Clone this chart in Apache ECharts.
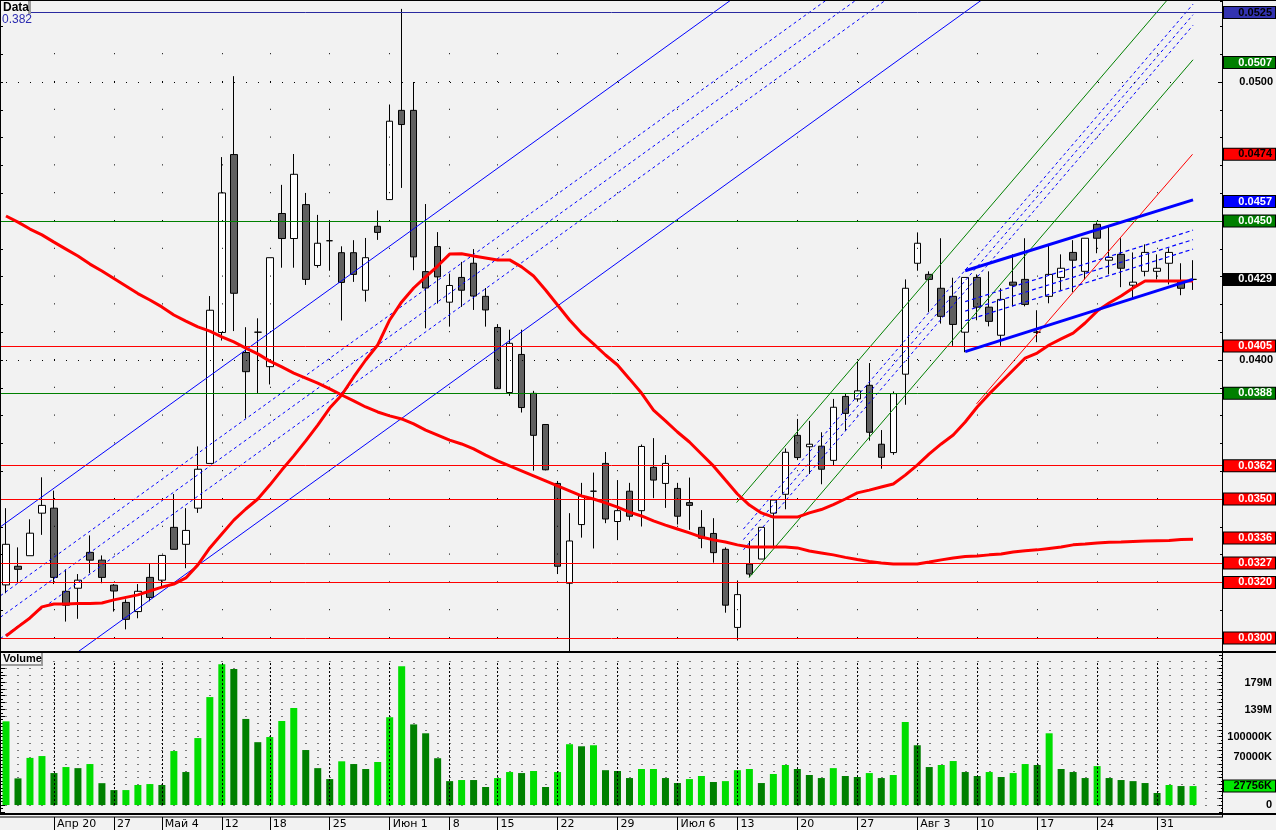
<!DOCTYPE html>
<html><head><meta charset="utf-8">
<script src="https://cdn.jsdelivr.net/npm/echarts@6/dist/echarts.min.js"></script>
<style>html,body{margin:0;padding:0;background:#f2f2f2}#c{width:1276px;height:830px}</style>
</head><body><div id="c"></div><script>
// ---------- data ----------
const dates = ['04-14','04-15','04-16','04-17','04-20','04-21','04-22','04-23','04-24','04-27',
'04-28','04-29','04-30','05-04','05-05','05-06','05-07','05-08','05-12','05-13',
'05-14','05-15','05-18','05-19','05-20','05-21','05-22','05-25','05-26','05-27',
'05-28','05-29','06-01','06-02','06-03','06-04','06-05','06-08','06-09','06-10',
'06-11','06-15','06-16','06-17','06-18','06-19','06-22','06-23','06-24','06-25',
'06-26','06-29','06-30','07-01','07-02','07-03','07-06','07-07','07-08','07-09',
'07-10','07-13','07-14','07-15','07-16','07-17','07-20','07-21','07-22','07-23',
'07-24','07-27','07-28','07-29','07-30','07-31','08-03','08-04','08-05','08-06',
'08-07','08-10','08-11','08-12','08-13','08-14','08-17','08-18','08-19','08-20',
'08-21','08-24','08-25','08-26','08-27','08-28','08-31','09-01','09-02','09-03'];
const open = [0.03191,0.03258,0.03296,0.03449,0.03467,0.03168,0.03179,0.03308,0.03280,0.03190,
0.03128,0.03095,0.03218,0.03208,0.03398,0.03337,0.03467,0.03628,0.04099,0.04739,
0.04027,0.04100,0.03976,0.04527,0.04437,0.04559,0.04340,0.04429,0.04386,0.04386,
0.04251,0.04481,0.04577,0.04898,0.04898,0.04318,0.04408,0.04208,0.04297,0.04348,
0.04229,0.04117,0.03883,0.04020,0.03880,0.03768,0.03556,0.03197,0.03408,0.03528,
0.03628,0.03419,0.03528,0.03458,0.03614,0.03556,0.03538,0.03487,0.03398,0.03376,
0.03319,0.03038,0.03266,0.03284,0.03449,0.03517,0.03729,0.03688,0.03690,0.03639,
0.03869,0.03860,0.03909,0.03697,0.03667,0.03949,0.04348,0.04308,0.04258,0.04229,
0.04100,0.04297,0.04190,0.04089,0.04280,0.04290,0.04100,0.04229,0.04297,0.04387,
0.04319,0.04488,0.04359,0.04380,0.04269,0.04319,0.04319,0.04348,0.04280,0.04290];
const close = [0.03337,0.03247,0.03377,0.03477,0.03218,0.03118,0.03208,0.03280,0.03218,0.03169,
0.03067,0.03168,0.03146,0.03297,0.03319,0.03387,0.03607,0.04179,0.04601,0.04240,
0.03958,0.04100,0.04368,0.04437,0.04668,0.04290,0.04420,0.04429,0.04279,0.04308,
0.04368,0.04459,0.04859,0.04847,0.04371,0.04259,0.04299,0.04268,0.04251,0.04230,
0.04180,0.03897,0.04060,0.03829,0.03729,0.03605,0.03258,0.03349,0.03510,0.03528,
0.03428,0.03458,0.03438,0.03689,0.03568,0.03628,0.03438,0.03477,0.03359,0.03307,
0.03118,0.03156,0.03230,0.03398,0.03496,0.03668,0.03649,0.03697,0.03607,0.03830,
0.03808,0.03889,0.03740,0.03650,0.03879,0.04258,0.04420,0.04290,0.04157,0.04128,
0.04297,0.04190,0.04139,0.04218,0.04269,0.04200,0.04100,0.04308,0.04330,0.04359,
0.04438,0.04438,0.04369,0.04330,0.04280,0.04387,0.04330,0.04387,0.04258,0.04290];
const high = [0.03467,0.03326,0.03427,0.03578,0.03530,0.03247,0.03230,0.03369,0.03297,0.03194,
0.03139,0.03194,0.03266,0.03297,0.03518,0.03467,0.03689,0.04230,0.04730,0.05021,
0.04118,0.04150,0.04368,0.04630,0.04741,0.04601,0.04522,0.04497,0.04409,0.04431,
0.04439,0.04538,0.04919,0.05263,0.05000,0.04561,0.04460,0.04311,0.04353,0.04399,
0.04259,0.04129,0.04109,0.04109,0.03889,0.03768,0.03565,0.03449,0.03558,0.03595,
0.03669,0.03568,0.03558,0.03696,0.03719,0.03658,0.03558,0.03577,0.03460,0.03431,
0.03326,0.03207,0.03349,0.03398,0.03496,0.03682,0.03788,0.03781,0.03740,0.03860,
0.03879,0.03996,0.03989,0.03748,0.03887,0.04290,0.04459,0.04319,0.04438,0.04296,
0.04297,0.04308,0.04319,0.04258,0.04380,0.04438,0.04179,0.04416,0.04380,0.04431,
0.04438,0.04495,0.04481,0.04438,0.04387,0.04416,0.04380,0.04402,0.04348,0.04359];
const low = [0.03161,0.03197,0.03296,0.03371,0.03194,0.03059,0.03069,0.03233,0.03197,0.03095,
0.03031,0.03071,0.03132,0.03187,0.03319,0.03251,0.03450,0.03628,0.04070,0.04104,
0.03790,0.03881,0.03912,0.04332,0.04332,0.04270,0.04332,0.04321,0.04142,0.04281,
0.04210,0.04432,0.04577,0.04619,0.04323,0.04114,0.04203,0.04120,0.04191,0.04180,
0.04120,0.03897,0.03871,0.03811,0.03602,0.03603,0.03230,0.02950,0.03361,0.03322,
0.03413,0.03352,0.03423,0.03401,0.03503,0.03468,0.03408,0.03389,0.03323,0.03271,
0.03091,0.02991,0.03218,0.03284,0.03323,0.03463,0.03640,0.03590,0.03553,0.03620,
0.03744,0.03850,0.03710,0.03609,0.03659,0.03839,0.04321,0.04172,0.04131,0.04051,
0.04028,0.04143,0.04121,0.04051,0.04193,0.04193,0.04064,0.04204,0.04252,0.04244,
0.04290,0.04384,0.04308,0.04262,0.04222,0.04301,0.04290,0.04272,0.04233,0.04252];
// volume, millions
const volume = [122.5,39,69,71.7,46.8,55.6,54,60,32,21.9,
21.9,29.3,30.7,29.3,79,48.3,98,158,206,199,
126,92,99.5,123,142,80.5,54,38,64,60,
52.7,63,128.5,203,118,105,68.5,35,36.6,36.6,
26.4,39.5,48.3,46.8,49.8,26.4,48.3,89,86,87.5,
51,49.8,39.5,52.7,52.7,39.5,32.2,38,42.5,33.7,
35,51,52.7,32.2,45.4,58.6,52.7,44,39.5,54,
42.5,41,46.8,39.5,44,121.5,87.5,55.6,58.6,64.4,
48.3,42.5,48.3,41,46.8,60,58.6,105,52.7,48.3,
39.5,57,39.5,36.6,35,32.2,17.6,29.3,27.8,27.756];
const volumeUp = [1,0,1,1,0,1,0,1,0,0,
1,1,1,0,1,0,1,1,1,0,
0,0,1,1,1,0,0,0,1,0,
0,1,1,1,0,0,0,0,1,0,
0,1,1,0,1,0,1,1,0,1,
0,0,0,1,1,0,0,1,1,0,
1,1,1,0,1,1,0,0,0,1,
0,0,1,0,1,1,0,0,1,1,
0,0,1,0,1,1,0,1,0,0,
0,1,0,0,0,0,0,1,0,1];
const maShort = [0.03007,0.03040,0.03072,0.03112,0.03122,0.03122,0.03124,0.03124,0.03126,0.03137,
0.03146,0.03155,0.03169,0.03183,0.03194,0.03216,0.03263,0.03324,0.03374,0.03424,
0.03464,0.03500,0.03550,0.03604,0.03655,0.03709,0.03766,0.03827,0.03874,0.03939,
0.04000,0.04054,0.04144,0.04209,0.04259,0.04299,0.04338,0.04381,0.04382,0.04374,
0.04367,0.04360,0.04360,0.04335,0.04302,0.04252,0.04198,0.04144,0.04097,0.04058,
0.04018,0.03982,0.03932,0.03881,0.03820,0.03781,0.03741,0.03705,0.03662,0.03619,
0.03568,0.03518,0.03478,0.03450,0.03435,0.03435,0.03435,0.03450,0.03462,0.03480,
0.03500,0.03522,0.03532,0.03543,0.03554,0.03586,0.03622,0.03662,0.03698,0.03730,
0.03777,0.03831,0.03878,0.03921,0.03964,0.04007,0.04025,0.04054,0.04076,0.04097,
0.04133,0.04176,0.04205,0.04230,0.04259,0.04284,0.04284,0.04284,0.04284,0.04284];
const maLong = [0.04518,0.04496,0.04471,0.04450,0.04424,0.04399,0.04374,0.04345,0.04320,0.04293,
0.04266,0.04239,0.04216,0.04191,0.04162,0.04140,0.04119,0.04104,0.04083,0.04065,
0.04043,0.04022,0.03996,0.03975,0.03953,0.03935,0.03917,0.03896,0.03874,0.03853,
0.03831,0.03813,0.03799,0.03788,0.03770,0.03748,0.03730,0.03712,0.03698,0.03680,
0.03658,0.03637,0.03619,0.03601,0.03583,0.03565,0.03547,0.03529,0.03511,0.03500,
0.03486,0.03471,0.03453,0.03439,0.03421,0.03406,0.03392,0.03378,0.03363,0.03353,
0.03345,0.03335,0.03327,0.03327,0.03327,0.03327,0.03324,0.03313,0.03306,0.03299,
0.03290,0.03282,0.03275,0.03270,0.03266,0.03266,0.03266,0.03273,0.03281,0.03288,
0.03293,0.03295,0.03299,0.03302,0.03309,0.03314,0.03317,0.03322,0.03327,0.03335,
0.03338,0.03342,0.03344,0.03345,0.03347,0.03349,0.03350,0.03351,0.03354,0.03355];
// week separators on the date axis
const weekIdx = [4,9,13,18,22,27,32,37,41,46,51,56,61,66,71,76,81,86,91,96];
const weekLabels = ['Апр 20','27','Май 4','12','18','25','Июн 1','8','15','22','29','Июл 6','13','20','27','Авг 3','10','17','24','31'];
const priceTicks = [0.030,0.035,0.040,0.045,0.050];
// horizontal levels drawn across the chart
const levelValues = [0.0525,0.0450,0.0405,0.0388,0.0362,0.0350,0.0327,0.0320,0.0300];
const levelKinds = ['navy','green','red','green','red','red','red','red','red'];
// value tags on the price scale (no horizontal line)
const tagValues = [0.0507,0.0474,0.0457,0.0429,0.0336];
const tagKinds = ['green','redDark','blue','black','red'];
// volume scale labels
const volTickValues = [179,139,100,70,0];
const volTickLabels = ['179M','139M','100000K','70000K','0'];
// drawn studies: [index, price] end points
const blueChannel = [[[-0.46,0.03400],[60.46,0.05295]],[[-0.46,0.02749],[81.37,0.05295]]];
const blueChannelFib = [[[-0.46,0.03152],[68.43,0.05295]],[[-0.46,0.03075],[70.91,0.05295]],[[-0.46,0.02998],[73.38,0.05295]]];
const greenChannel = [[[60.93,0.03487],[96.85,0.05295]],[[61.98,0.03218],[99,0.05080]]];
const greenChannelFib = [[[61.5,0.03392],[99,0.05280]],[[61.5,0.03354],[99,0.05242]],[[61.5,0.03317],[99,0.05204]]];
const redTrend = [[80.94,0.03842],[98.96,0.04740]];
const triangle = [[[80,0.04321],[99,0.04576]],[[80,0.04030],[99,0.04290]]];
const triangleFib = [[[80,0.04210],[99,0.04467]],[[80,0.04176],[99,0.04433]],[[80,0.04141],[99,0.04399]]];

// ---------- layout / style ----------
const PMIN = 0.029532, PMAX = 0.052914;
const VMIN = -9.9, VMAX = 219;
const GW = 1223;
const BOLD = 'Liberation Sans';
const KIND = {
  navy:{line:'#2a2aa0', bg:'#3333b0', text:'#000'},
  green:{line:'#008000', bg:'#008000', text:'#fff'},
  red:{line:'#ff0000', bg:'#ff0000', text:'#fff'},
  redDark:{line:'rgba(0,0,0,0)', bg:'#ff0000', text:'#000'},
  blue:{line:'rgba(0,0,0,0)', bg:'#0000ff', text:'#fff'},
  black:{line:'rgba(0,0,0,0)', bg:'#000000', text:'#fff'}
};
function tagLabel(text, k, bg) {
  return {show:true, position:'end', distance:[52,0], align:'right', verticalAlign:'middle',
    formatter:text, color:k.text, backgroundColor:bg ? k.bg : 'transparent',
    borderColor: bg ? '#000' : 'transparent', borderWidth: bg ? 1 : 0,
    padding:[1,3,0,3], width:45, lineHeight:10, fontFamily:BOLD, fontSize:11, fontWeight:'bold', opacity:1};
}
function seg(pts, color, width, type, z) {
  return {type:'line', xAxisIndex:0, yAxisIndex:0, data:pts, symbol:'none', silent:true, clip:true,
    lineStyle:{color:color, width:width, type:type || 'solid'}, z:z || 4, animation:false};
}

const series = [];
// grid dots
series.push({type:'line', xAxisIndex:0, yAxisIndex:0, data:[], silent:true, z:1,
  markLine:{silent:true, precision:6, symbol:['none','none'], animation:false, label:{show:false},
    data: weekIdx.map(i => [{coord:[i,0.030], lineStyle:{color:'#000', width:1, type:[1,26.8]}}, {coord:[i,0.052]}])
      .concat(priceTicks.map(v => [{coord:[0,v], lineStyle:{color:'#000', width:1, type:[1,11]}}, {coord:[99,v]}]))}});
// candles
series.push({type:'candlestick', xAxisIndex:0, yAxisIndex:0, barWidth:7, z:2, silent:true,
  data: open.map((o,i) => [i, o, close[i], low[i], high[i]]),
  itemStyle:{color:'#ffffff', color0:'#606060', borderColor:'#000', borderColor0:'#000', borderWidth:1}});
// studies
blueChannel.forEach(p => series.push(seg(p, '#0000ff', 1)));
blueChannelFib.forEach(p => series.push(seg(p, '#0000ff', 1, [3,3])));
greenChannel.forEach(p => series.push(seg(p, '#008000', 1)));
greenChannelFib.forEach(p => series.push(seg(p, '#0000ff', 1, [3,3])));
series.push(seg(redTrend, '#ff0000', 1));
triangleFib.forEach(p => series.push(seg(p, '#0000ff', 1.2, [4,3])));
series.push(seg(maLong.map((v,i)=>[i,v]), '#ff0000', 3, 'solid', 5));
series.push(seg(maShort.map((v,i)=>[i,v]), '#ff0000', 3, 'solid', 5));
triangle.forEach(p => series.push(seg(p, '#0000ff', 3, 'solid', 6)));
// levels + price tags
series.push({type:'line', xAxisIndex:0, yAxisIndex:0, data:[], silent:true, z:7,
  markLine:{silent:true, precision:6, symbol:['none','none'], animation:false,
    data: levelValues.map((v,i) => { const k = KIND[levelKinds[i]];
      return {yAxis:v, lineStyle:{color:k.line, width:1, type:'solid'}, label:tagLabel(v.toFixed(4), k, true)}; })
      .concat(tagValues.map((v,i) => { const k = KIND[tagKinds[i]];
      return {yAxis:v, lineStyle:{color:'rgba(0,0,0,0)', width:0}, label:tagLabel(v.toFixed(4), k, true)}; }))}});
// volume
series.push({type:'bar', xAxisIndex:1, yAxisIndex:3, barWidth:7, z:2, silent:true,
  data: volume.map((v,i) => ({value:[i,v], itemStyle:{color: volumeUp[i] ? '#00dd00' : '#008000'}})),
  markLine:{silent:true, precision:6, symbol:['none','none'], animation:false, label:{show:false},
    data: weekIdx.map(i => [{coord:[i,0], lineStyle:{color:'#000', width:1, type:[2,2]}}, {coord:[i,210]}])}});
series.push({type:'line', xAxisIndex:1, yAxisIndex:3, data:[], silent:true, z:7,
  markLine:{silent:true, precision:6, symbol:['none','none'], animation:false,
    data: volTickValues.map((v,i) => ({yAxis:v, lineStyle:{color:'rgba(0,0,0,0)', width:0},
        label:tagLabel(volTickLabels[i], {text:'#000'}, false)}))
      .concat([{yAxis:volume[volume.length-1], lineStyle:{color:'rgba(0,0,0,0)', width:0},
        label:tagLabel(Math.round(volume[volume.length-1]*1000)+'K', {bg:'#00e600', text:'#000'}, true)}])}});

const hiddenX = (g) => ({type:'value', gridIndex:g, min:-0.5, max:101.5, show:false, axisLine:{onZero:false}});
const option = {
  animation:false,
  backgroundColor:'#f2f2f2',
  grid:[
    {left:0, top:1, width:GW, height:650},
    {left:0, top:655.4, width:GW, height:156.4},
    {left:0, top:817, width:GW, height:13}
  ],
  xAxis:[hiddenX(0), hiddenX(1),
    {type:'category', gridIndex:2, position:'top', boundaryGap:true,
     data: dates.concat(['','']),
     axisLine:{show:false, onZero:false},
     axisTick:{show:true, inside:true, length:13, alignWithLabel:true, lineStyle:{color:'#000', width:1},
       interval:(i) => weekIdx.indexOf(i) >= 0},
     axisLabel:{show:true, inside:true, margin:2, align:'left', verticalAlign:'top', padding:[0,0,0,3],
       interval:(i) => weekIdx.indexOf(i) >= 0,
       formatter:(v,i) => { const k = weekIdx.indexOf(i); return k >= 0 ? weekLabels[k] : ''; },
       fontFamily:'DejaVu Sans', fontSize:11, color:'#000'},
     splitLine:{show:false}}],
  yAxis:[
    {type:'value', gridIndex:0, position:'right', min:PMIN, max:PMAX, splitNumber:5,
     axisLine:{show:false, onZero:false},
     axisTick:{show:true, inside:true, length:5, lineStyle:{color:'#000'}},
     axisLabel:{show:true, align:'right', margin:50, showMinLabel:false, showMaxLabel:false,
       formatter:(v) => v.toFixed(4), fontFamily:BOLD, fontSize:11, fontWeight:'bold', color:'#000'},
     splitLine:{show:false}},
    {type:'value', gridIndex:0, position:'right', min:PMIN, max:PMAX, splitNumber:23,
     axisLine:{show:false, onZero:false}, axisLabel:{show:false}, splitLine:{show:false},
     axisTick:{show:true, inside:true, length:3, lineStyle:{color:'#000'}}},
    {type:'value', gridIndex:0, position:'left', min:PMIN, max:PMAX, splitNumber:23,
     axisLine:{show:false, onZero:false}, axisLabel:{show:false}, splitLine:{show:false},
     axisTick:{show:true, inside:true, length:3, lineStyle:{color:'#000'}}},
    {type:'value', gridIndex:1, position:'right', min:VMIN, max:VMAX, splitNumber:23,
     axisLine:{show:false, onZero:false}, axisLabel:{show:false},
     axisTick:{show:true, inside:true, length:4, lineStyle:{color:'#000'}},
     minorTick:{show:true, splitNumber:2, length:2, lineStyle:{color:'#000'}},
     splitLine:{show:true, showMinLine:false, showMaxLine:false,
       lineStyle:{color:'#000', width:1, type:[1,11], dashOffset:6.5}}},
    {type:'value', gridIndex:1, position:'left', min:VMIN, max:VMAX, splitNumber:23,
     axisLine:{show:false, onZero:false}, axisLabel:{show:false}, splitLine:{show:false},
     axisTick:{show:true, inside:true, length:5, lineStyle:{color:'#000'}},
     minorTick:{show:true, splitNumber:2, length:3, lineStyle:{color:'#000'}}},
    {type:'value', gridIndex:2, min:0, max:1, show:false, axisLine:{onZero:false}}
  ],
  series: series,
  graphic:[
    {type:'rect', shape:{x:0, y:0, width:1276, height:1}, style:{fill:'#000'}, z:100, silent:true},
    {type:'rect', shape:{x:0, y:0, width:1, height:815}, style:{fill:'#000'}, z:100, silent:true},
    {type:'rect', shape:{x:1222, y:0, width:1, height:817}, style:{fill:'#000'}, z:100, silent:true},
    {type:'rect', shape:{x:0, y:651, width:1276, height:2}, style:{fill:'#000'}, z:100, silent:true},
    {type:'rect', shape:{x:0, y:813, width:1276, height:2}, style:{fill:'#000'}, z:100, silent:true},
    {type:'rect', shape:{x:0, y:816.5, width:1223, height:1}, style:{fill:'#000'}, z:100, silent:true},
    // "Data" tab
    {type:'rect', shape:{x:1, y:1, width:27, height:12}, style:{fill:'#f4f4f4'}, z:101, silent:true},
    {type:'rect', shape:{x:28, y:1, width:3, height:13}, style:{fill:'#9c9c9c'}, z:101, silent:true},
    {type:'text', x:3, y:1.5, style:{text:'Data', fill:'#000', font:'bold 12px "Liberation Sans"'}, z:102, silent:true},
    {type:'text', x:2, y:14, style:{text:'0.382', fill:'#2b2bb0', font:'12px "Liberation Sans"'}, z:102, silent:true},
    // "Volume" tab
    {type:'rect', shape:{x:1, y:653, width:40, height:11}, style:{fill:'#f4f4f4'}, z:101, silent:true},
    {type:'rect', shape:{x:41, y:653, width:2, height:13}, style:{fill:'#9c9c9c'}, z:101, silent:true},
    {type:'rect', shape:{x:1, y:664, width:42, height:2}, style:{fill:'#9c9c9c'}, z:101, silent:true},
    {type:'text', x:3, y:653.5, style:{text:'Volume', fill:'#000', font:'bold 11px "Liberation Sans"'}, z:102, silent:true}
  ]
};
const chart = echarts.init(document.getElementById('c'), null, {renderer:'canvas', width:1276, height:830});
chart.setOption(option);
</script></body></html>
